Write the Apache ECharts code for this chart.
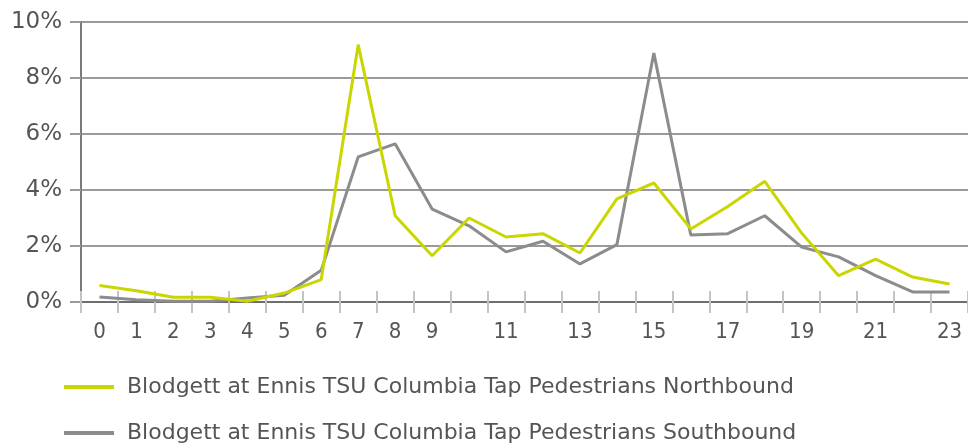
<!DOCTYPE html>
<html>
<head>
<meta charset="utf-8">
<script src="https://cdn.jsdelivr.net/npm/echarts@6/dist/echarts.min.js"></script>
<style>
html,body{margin:0;padding:0;background:#fff;}
#chart{width:968px;height:447px;}
</style>
</head>
<body>
<div id="chart"></div>
<script>
var hours = ['0','1','2','3','4','5','6','7','8','9','10','11','12','13','14','15','16','17','18','19','20','21','22','23'];
var northbound = [0.59,0.40,0.17,0.17,0.03,0.32,0.80,9.19,3.08,1.65,3.00,2.32,2.44,1.75,3.68,4.25,2.61,3.41,4.31,2.46,0.94,1.53,0.89,0.64];
var southbound = [0.18,0.08,0.03,0.03,0.14,0.24,1.13,5.18,5.65,3.32,2.72,1.79,2.17,1.36,2.05,8.89,2.39,2.44,3.08,1.96,1.61,0.94,0.36,0.36];
var yTicks = [0,2,4,6,8,10];
var seriesNames = ['Blodgett at Ennis TSU Columbia Tap Pedestrians Northbound','Blodgett at Ennis TSU Columbia Tap Pedestrians Southbound'];

var chart = echarts.init(document.getElementById('chart'));
var font = 'DejaVu Sans';
var condensed = '"DejaVu Sans Condensed", "DejaVu Sans"';
function showLabel(i){ return i <= 9 || i % 2 === 1; }
function legendFor(name, top){
  return {
    orient: 'horizontal', left: 64, top: top, padding: 0,
    itemWidth: 50, itemHeight: 4, icon: 'rect',
    textStyle: {fontFamily: font, fontSize: 22, color: '#555', padding: [0,0,0,8]},
    data: [name]
  };
}
chart.setOption({
  animation: false,
  grid: {left: 81, top: 22, right: 0, bottom: 145, containLabel: false},
  legend: [legendFor(seriesNames[0], 376), legendFor(seriesNames[1], 422)],
  xAxis: [{
    type: 'category', data: hours, boundaryGap: true,
    axisLine: {lineStyle: {color: '#6e6e6e', width: 2}},
    axisTick: {show: true, length: 11, interval: 0, lineStyle: {color: '#c4c4c4', width: 2}},
    axisLabel: {interval: function(i){return showLabel(i);}, fontFamily: condensed, fontSize: 22, color: '#555', margin: 19}
  },{
    type: 'category', data: hours, boundaryGap: true, position: 'bottom',
    axisLine: {show: false},
    axisTick: {show: true, inside: true, length: 11, interval: 0, lineStyle: {color: '#c4c4c4', width: 2}},
    axisLabel: {show: false}
  }],
  yAxis: {
    type: 'value', min: 0, max: 10, interval: 2,
    axisLine: {show: true, lineStyle: {color: '#7a7a7a', width: 2}},
    axisTick: {show: true, length: 11, lineStyle: {color: '#9a9a9a', width: 2}},
    splitLine: {lineStyle: {color: '#9a9a9a', width: 2}},
    axisLabel: {formatter: function(v){ return yTicks.indexOf(v) >= 0 ? v + '%' : ''; }, fontFamily: font, fontSize: 23, color: '#555', margin: 19}
  },
  series: [{
    name: seriesNames[0], type: 'line', data: northbound, symbol: 'none',
    lineStyle: {color: '#cad600', width: 3}, itemStyle: {color: '#cad600'}, z: 3
  },{
    name: seriesNames[1], type: 'line', data: southbound, symbol: 'none',
    lineStyle: {color: '#8c8c8c', width: 3}, itemStyle: {color: '#8c8c8c'}, z: 2
  }]
});
</script>
</body>
</html>
